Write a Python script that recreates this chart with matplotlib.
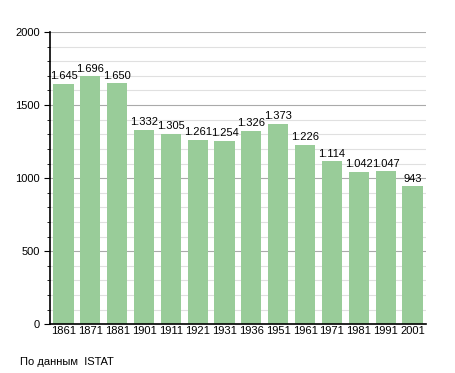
import matplotlib.pyplot as plt
from matplotlib.ticker import MultipleLocator

plt.rcParams["font.family"] = ["Liberation Sans", "DejaVu Sans"]

years = ["1861", "1871", "1881", "1901", "1911", "1921", "1931",
         "1936", "1951", "1961", "1971", "1981", "1991", "2001"]
population = [1645, 1696, 1650, 1332, 1305, 1261, 1254,
              1326, 1373, 1226, 1114, 1042, 1047, 943]


def fmt(v):
    return f"{v:,}".replace(",", ".")


fig = plt.figure(figsize=(4.55, 3.73), dpi=100)
ax = fig.add_axes([0.110, 0.131, 0.826, 0.783])

x = range(len(years))
ax.bar(x, population, width=0.75, color="#99cc99", zorder=2)
for i, v in zip(x, population):
    ax.text(i, v + 18, fmt(v), ha="center", va="bottom", fontsize=8, zorder=3)

ax.set_xlim(-0.5, len(years) - 0.5)
ax.set_ylim(0, 2000)
ax.yaxis.set_major_locator(MultipleLocator(500))
ax.yaxis.set_minor_locator(MultipleLocator(100))
ax.grid(axis="y", which="major", color="#aaaaaa", linewidth=0.8, zorder=0)
ax.grid(axis="y", which="minor", color="#e0e0e0", linewidth=0.8, zorder=0)

ax.set_xticks(list(x))
ax.set_xticklabels(years)
ax.tick_params(axis="x", length=0, labelsize=8, pad=1.5)
ax.tick_params(axis="y", which="major", length=4, labelsize=8)
ax.tick_params(axis="y", which="minor", length=2)

for s in ["top", "right"]:
    ax.spines[s].set_visible(False)
ax.spines["left"].set_linewidth(1.2)
ax.spines["bottom"].set_linewidth(1.2)

fig.text(20 / 455, 1 - 362 / 373, "По данным  ISTAT", fontsize=8, va="center")

fig.savefig("out.png", dpi=100)
